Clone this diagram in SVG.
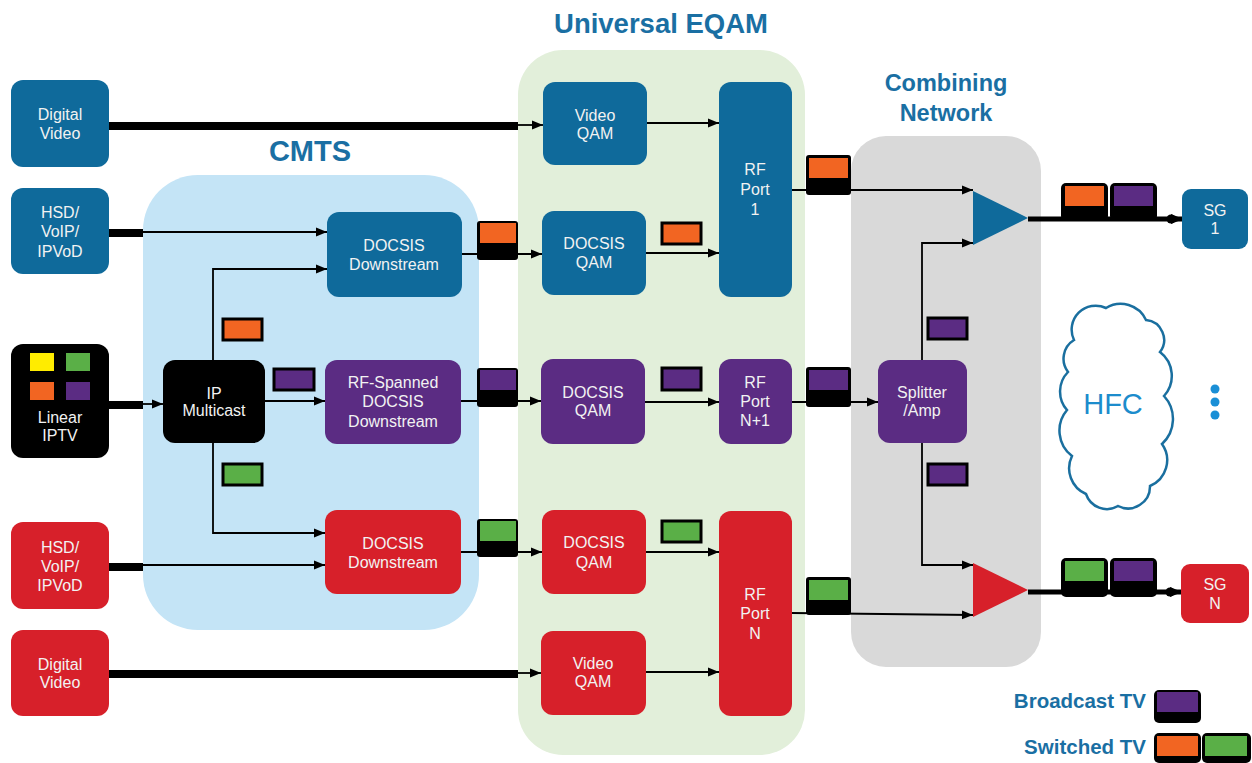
<svg xmlns="http://www.w3.org/2000/svg" width="1252" height="763" viewBox="0 0 1252 763">
<style>
.t{font-family:"Liberation Sans",Arial,sans-serif;font-size:16px;fill:#f2f2f2;text-anchor:middle}
.h{font-family:"Liberation Sans",Arial,sans-serif;font-weight:bold;fill:#1a6fa3;text-anchor:middle}
.blue{fill:#0f6a9b}.pur{fill:#5b2c83}.red{fill:#d7202a}.blk{fill:#000}
.ln{stroke:#000;stroke-width:1.8;fill:none}
.thick{stroke:#000;stroke-width:8;fill:none}
.tag{stroke:#000;stroke-width:3}
.o{fill:#f26522}.g{fill:#5aaf47}.p{fill:#5b2c83}.y{fill:#ffec00}
</style>
<defs>
<marker id="ar" markerUnits="userSpaceOnUse" markerWidth="11" markerHeight="10" refX="11" refY="5" orient="auto">
<path d="M0,0.5 L11,5 L0,9.5 z" fill="#000"/>
</marker>
<marker id="ard" markerUnits="userSpaceOnUse" markerWidth="12" markerHeight="12" refX="11" refY="6" orient="auto">
<path d="M0,1 L12,6 L0,11 z" fill="#000"/>
</marker>
</defs>
<rect width="1252" height="763" fill="#fff"/>

<g id="containers">
<rect x="143" y="175" width="336" height="455" rx="55" fill="#c4e4f6"/>
<rect x="518" y="50" width="287" height="705" rx="45" fill="#e2efda"/>
<rect x="851" y="136" width="190" height="531" rx="35" fill="#d9d9d9"/>
</g>

<g id="titles">
<text class="h" x="661" y="33" font-size="27.5">Universal EQAM</text>
<text class="h" x="310" y="161" font-size="29">CMTS</text>
<text class="h" x="946" y="91" font-size="23.5">Combining</text>
<text class="h" x="946" y="121" font-size="23.5">Network</text>
</g>

<g id="connectors">
<path class="thick" d="M109,126 H518"/>
<path class="ln" d="M518,125 H543" marker-end="url(#ar)"/>
<path class="ln" d="M647,123 H719" marker-end="url(#ar)"/>
<path class="thick" d="M109,233 H143"/>
<path class="ln" d="M143,232 H327" marker-end="url(#ar)"/>
<path class="ln" d="M213,360 V269 H327" marker-end="url(#ar)"/>
<path class="ln" d="M213,443 V533 H325" marker-end="url(#ar)"/>
<path class="thick" d="M109,405 H143"/>
<path class="ln" d="M143,404 H163" marker-end="url(#ar)"/>
<path class="ln" d="M265,401 H325" marker-end="url(#ar)"/>
<path class="thick" d="M109,567 H143"/>
<path class="ln" d="M143,565 H325" marker-end="url(#ar)"/>
<path class="thick" d="M109,674 H518"/>
<path class="ln" d="M518,673 H541" marker-end="url(#ar)"/>
<path class="ln" d="M462,254 H542" marker-end="url(#ar)"/>
<path class="ln" d="M646,253 H719" marker-end="url(#ar)"/>
<path class="ln" d="M461,401 H541" marker-end="url(#ar)"/>
<path class="ln" d="M645,402 H719" marker-end="url(#ar)"/>
<path class="ln" d="M792,402 H878" marker-end="url(#ar)"/>
<path class="ln" d="M461,552 H542" marker-end="url(#ar)"/>
<path class="ln" d="M646,552 H719" marker-end="url(#ar)"/>
<path class="ln" d="M646,672 H719" marker-end="url(#ar)"/>
<path class="ln" d="M792,190 H973" marker-end="url(#ar)"/>
<path class="ln" d="M922,360 V243 H973" marker-end="url(#ar)"/>
<path class="ln" d="M922,443 V565 H973" marker-end="url(#ar)"/>
<path class="ln" d="M792,613 L973,615" marker-end="url(#ar)"/>
<path d="M1028,219 H1182" stroke="#000" stroke-width="5" fill="none" marker-end="url(#ard)"/>
<circle cx="1171" cy="219" r="4.5" fill="#000"/>
<path d="M1028,592 H1181" stroke="#000" stroke-width="5" fill="none" marker-end="url(#ard)"/>
<circle cx="1170" cy="592" r="4.5" fill="#000"/>
</g>

<g id="n-dv-blue"><rect class="blue" x="11" y="80" width="98" height="87" rx="12"/>
<text class="t" x="60" y="120">Digital</text><text class="t" x="60" y="139">Video</text></g>
<g id="n-hsd-blue"><rect class="blue" x="11" y="188" width="98" height="86" rx="12"/>
<text class="t" x="60" y="218">HSD/</text><text class="t" x="60" y="237">VoIP/</text><text class="t" x="60" y="257">IPVoD</text></g>
<g id="n-iptv"><rect class="blk" x="11" y="344" width="98" height="114" rx="12"/>
<rect class="y" x="30" y="353" width="24" height="18"/><rect class="g" x="66" y="353" width="24" height="18"/>
<rect class="o" x="30" y="382" width="24" height="18"/><rect class="p" x="66" y="382" width="24" height="18"/>
<text class="t" x="60" y="423">Linear</text><text class="t" x="60" y="441">IPTV</text></g>
<g id="n-hsd-red"><rect class="red" x="11" y="522" width="98" height="87" rx="12"/>
<text class="t" x="60" y="553">HSD/</text><text class="t" x="60" y="572">VoIP/</text><text class="t" x="60" y="591">IPVoD</text></g>
<g id="n-dv-red"><rect class="red" x="11" y="630" width="98" height="86" rx="12"/>
<text class="t" x="60" y="670">Digital</text><text class="t" x="60" y="688">Video</text></g>

<g id="n-ipmc"><rect class="blk" x="163" y="360" width="102" height="83" rx="12"/>
<text class="t" x="214" y="399">IP</text><text class="t" x="214" y="416">Multicast</text></g>
<g id="n-dsb"><rect class="blue" x="327" y="212" width="135" height="85" rx="12"/>
<text class="t" x="394" y="251">DOCSIS</text><text class="t" x="394" y="270">Downstream</text></g>
<g id="n-rfs"><rect class="pur" x="325" y="360" width="136" height="84" rx="12"/>
<text class="t" x="393" y="388">RF-Spanned</text><text class="t" x="393" y="407">DOCSIS</text><text class="t" x="393" y="427">Downstream</text></g>
<g id="n-dsr"><rect class="red" x="325" y="510" width="136" height="84" rx="12"/>
<text class="t" x="393" y="549">DOCSIS</text><text class="t" x="393" y="568">Downstream</text></g>

<g id="n-vqb"><rect class="blue" x="543" y="82" width="104" height="83" rx="12"/>
<text class="t" x="595" y="121">Video</text><text class="t" x="595" y="139">QAM</text></g>
<g id="n-dqb"><rect class="blue" x="542" y="211" width="104" height="84" rx="12"/>
<text class="t" x="594" y="249">DOCSIS</text><text class="t" x="594" y="268">QAM</text></g>
<g id="n-rf1"><rect class="blue" x="719" y="82" width="73" height="215" rx="12"/>
<text class="t" x="755" y="175">RF</text><text class="t" x="755" y="195">Port</text><text class="t" x="755" y="215">1</text></g>
<g id="n-dqp"><rect class="pur" x="541" y="359" width="104" height="85" rx="12"/>
<text class="t" x="593" y="398">DOCSIS</text><text class="t" x="593" y="416">QAM</text></g>
<g id="n-rfn1"><rect class="pur" x="719" y="359" width="73" height="85" rx="12"/>
<text class="t" x="755" y="388">RF</text><text class="t" x="755" y="407">Port</text><text class="t" x="755" y="426">N+1</text></g>
<g id="n-dqr"><rect class="red" x="542" y="510" width="104" height="84" rx="12"/>
<text class="t" x="594" y="548">DOCSIS</text><text class="t" x="594" y="568">QAM</text></g>
<g id="n-vqr"><rect class="red" x="541" y="631" width="105" height="84" rx="12"/>
<text class="t" x="593" y="669">Video</text><text class="t" x="593" y="687">QAM</text></g>
<g id="n-rfn"><rect class="red" x="719" y="511" width="73" height="205" rx="12"/>
<text class="t" x="755" y="600">RF</text><text class="t" x="755" y="619">Port</text><text class="t" x="755" y="639">N</text></g>

<g id="n-amp1"><polygon class="blue" points="973,191 973,245 1028,218"/></g>
<g id="n-split"><rect class="pur" x="878" y="360" width="89" height="83" rx="12"/>
<text class="t" x="922" y="398">Splitter</text><text class="t" x="922" y="416">/Amp</text></g>
<g id="n-ampn"><polygon class="red" points="973,563 973,617 1028,590"/></g>

<g id="n-sg1"><rect class="blue" x="1182" y="189" width="66" height="60" rx="9"/>
<text class="t" x="1215" y="216">SG</text><text class="t" x="1215" y="234">1</text></g>
<g id="n-sgn"><rect class="red" x="1181" y="564" width="68" height="59" rx="9"/>
<text class="t" x="1215" y="590">SG</text><text class="t" x="1215" y="609">N</text></g>

<g id="n-hfc">
<path d="M1074,340 A24,24 0 0 1 1106,308 A28,28 0 0 1 1146,320 A20,20 0 0 1 1160,352 A30,30 0 0 1 1164,396 A34,34 0 0 1 1162,444 A28,28 0 0 1 1150,486 A22,22 0 0 1 1118,506 A22,22 0 0 1 1086,494 A28,28 0 0 1 1072,456 A32,32 0 0 1 1067,410 A28,28 0 0 1 1068,372 A22,22 0 0 1 1074,340 Z" fill="#fff" stroke="#1a6f9f" stroke-width="2.5"/>
<text x="1113" y="414" font-family="Liberation Sans,Arial,sans-serif" font-size="29" fill="#1c8ccc" text-anchor="middle">HFC</text>
</g>
<g id="dots" fill="#1a8fd6"><circle cx="1215" cy="389" r="4.5"/><circle cx="1215" cy="402" r="4.5"/><circle cx="1215" cy="415" r="4.5"/></g>

<g id="tags">
<rect class="tag o" x="223" y="319" width="39" height="21"/>
<rect class="tag g" x="223" y="464" width="39" height="21"/>
<rect class="tag p" x="274" y="369" width="40" height="21"/>
<rect class="tag o" x="662" y="223" width="39" height="21"/>
<rect class="tag p" x="662" y="368" width="39" height="22"/>
<rect class="tag g" x="662" y="521" width="39" height="21"/>
<rect class="tag p" x="928" y="318" width="39" height="21"/>
<rect class="tag p" x="928" y="464" width="39" height="21"/>

<rect class="blk" x="477" y="221" width="41" height="39" rx="3"/><rect class="o" x="480" y="223" width="36" height="20"/>
<rect class="blk" x="477" y="368" width="41" height="39" rx="3"/><rect class="p" x="480" y="370" width="36" height="20"/>
<rect class="blk" x="477" y="519" width="41" height="38" rx="3"/><rect class="g" x="480" y="521" width="36" height="20"/>
<rect class="blk" x="806" y="155" width="45" height="40" rx="3"/><rect class="o" x="809" y="158" width="39" height="20"/>
<rect class="blk" x="806" y="367" width="45" height="40" rx="3"/><rect class="p" x="809" y="370" width="39" height="20"/>
<rect class="blk" x="806" y="577" width="45" height="38" rx="3"/><rect class="g" x="809" y="580" width="39" height="20"/>

<rect class="blk" x="1061" y="183" width="47" height="38" rx="5"/><rect class="o" x="1065" y="186" width="39" height="20"/>
<rect class="blk" x="1110" y="183" width="47" height="38" rx="5"/><rect class="p" x="1114" y="186" width="39" height="20"/>
<rect class="blk" x="1061" y="558" width="47" height="39" rx="5"/><rect class="g" x="1065" y="561" width="39" height="20"/>
<rect class="blk" x="1110" y="558" width="47" height="39" rx="5"/><rect class="p" x="1114" y="561" width="39" height="20"/>
</g>

<g id="legend">
<text class="h" x="1146" y="708" font-size="20.5" style="text-anchor:end">Broadcast TV</text>
<rect class="blk" x="1154" y="690" width="47" height="33" rx="5"/><rect class="p" x="1157" y="692" width="41" height="20"/>
<text class="h" x="1146" y="754" font-size="20.5" style="text-anchor:end">Switched TV</text>
<rect class="blk" x="1154" y="733" width="47" height="30" rx="5"/><rect class="o" x="1157" y="736" width="41" height="20"/>
<rect class="blk" x="1202" y="733" width="49" height="30" rx="5"/><rect class="g" x="1205" y="736" width="42" height="20"/>
</g>
</svg>
